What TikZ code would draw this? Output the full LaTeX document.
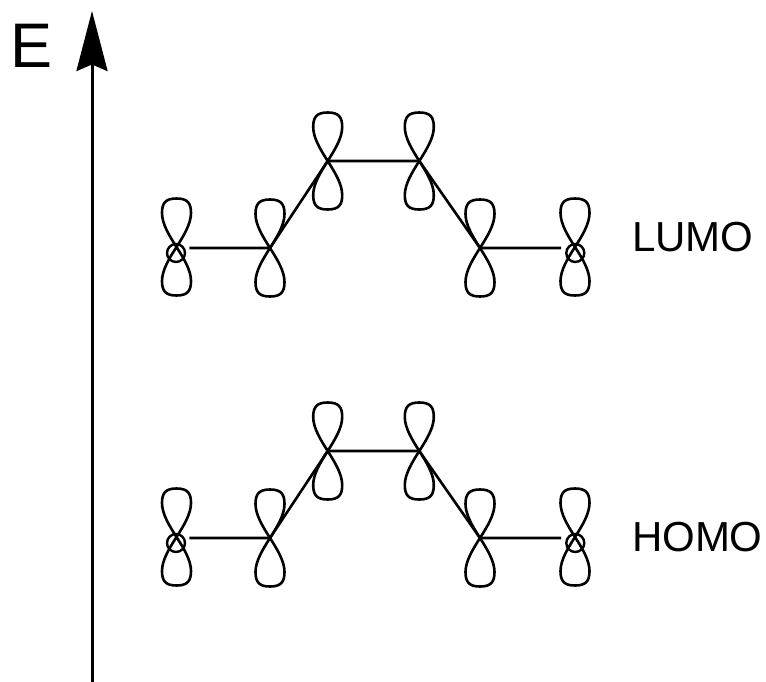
\documentclass[tikz,border=0pt]{standalone}
\usepackage{fontspec}
\setmainfont{Liberation Sans}
\usetikzlibrary{arrows.meta}
\tikzset{
  x=1pt,y=-1pt,
  bond/.style={line width=2.6pt,line cap=butt},
  lobeline/.style={line width=2.6pt,line join=round},
  axisline/.style={line width=3pt,-{Stealth[length=60pt,width=31pt,inset=6.5pt]}},
  lbl/.style={inner sep=0pt,outer sep=0pt,anchor=base west,font=\fontsize{42}{42}\selectfont},
  pics/orbital/.style={code={
    \draw[lobeline] (0,0) .. controls (-7,-11) and (-14.5,-23) .. (-14.5,-34)
      .. controls (-14.5,-44) and (-11,-48.5) .. (0,-48.5)
      .. controls (11,-48.5) and (14.5,-44) .. (14.5,-34)
      .. controls (14.5,-23) and (7,-11) .. (0,0)
      .. controls (-7,11) and (-14.5,23) .. (-14.5,34)
      .. controls (-14.5,44) and (-11,48.5) .. (0,48.5)
      .. controls (11,48.5) and (14.5,44) .. (14.5,34)
      .. controls (14.5,23) and (7,11) .. (0,0) -- cycle;
  }},
  ringc/.style={circle,draw,line width=2.4pt,minimum size=18pt,inner sep=0pt}
}
\newcommand{\chain}[2]{%
  \begin{scope}[yshift=-#1pt]
    \coordinate (#2a) at (176.5,247);
    \coordinate (#2b) at (270,248);
    \coordinate (#2c) at (327.7,161);
    \coordinate (#2d) at (419.3,161);
    \coordinate (#2e) at (480,248);
    \coordinate (#2f) at (575,247);
    \foreach \n in {a,b,c,d,e,f}{\pic at (#2\n) {orbital};}
    \node[ringc] (#2r1) at (176,253) {};
    \node[ringc] (#2r2) at (575.3,253) {};
    \coordinate (#2s) at (189.3,248);
    \coordinate (#2t) at (561,248);
    \draw[bond] (#2s) -- (#2b) -- (#2c) -- (#2d) -- (#2e) -- (#2t);
  \end{scope}}
\begin{document}
\begin{tikzpicture}
\useasboundingbox (0,0) rectangle (766,682);
\coordinate (axisbottom) at (92,681.5);
\coordinate (axistop) at (92,11);
\draw[axisline] (axisbottom) -- (axistop);
\node[lbl,font=\fontsize{63}{63}\selectfont] (elabel) at (10,68) {E};
\chain{0}{u}
\chain{290}{h}
\node[lbl] (lumo) at (632,251.5) {LUMO};
\node[lbl] (homo) at (632,551.5) {HOMO};
\end{tikzpicture}
\end{document}
